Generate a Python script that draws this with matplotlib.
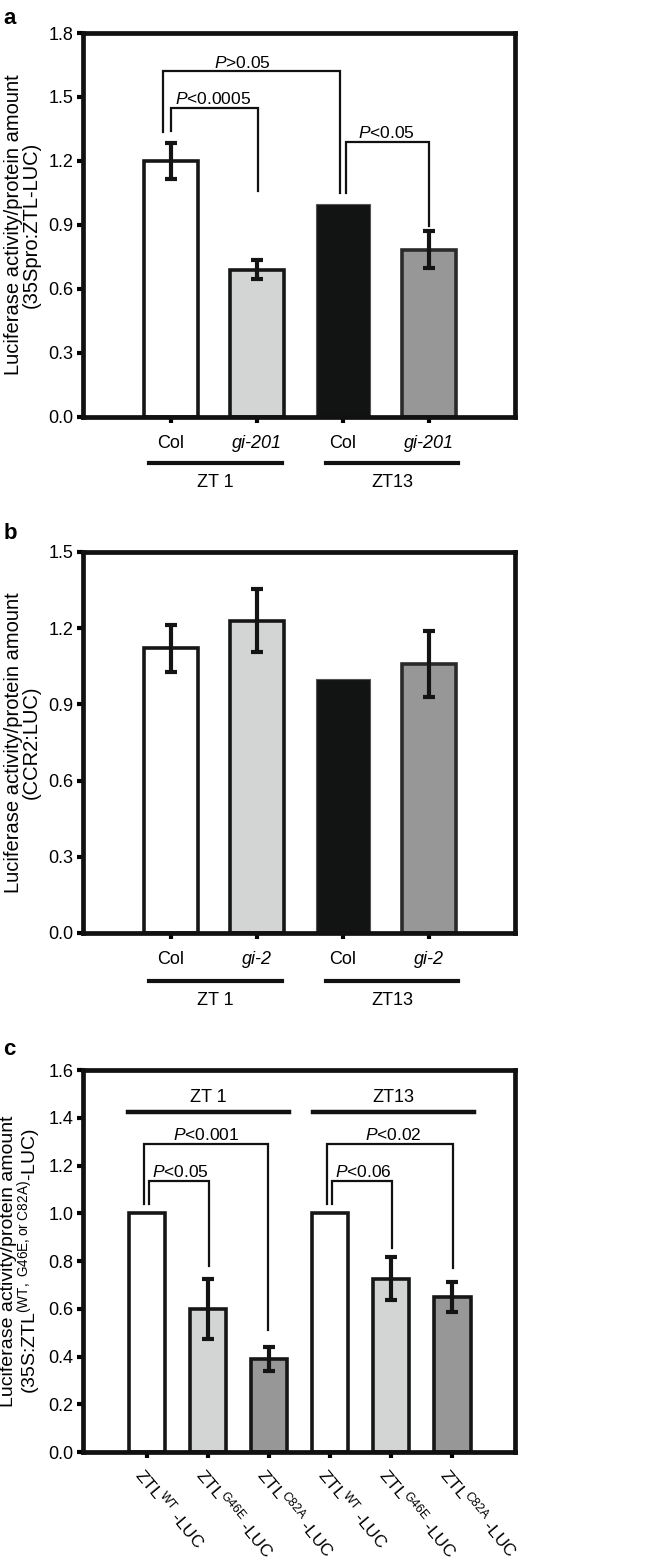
import matplotlib
matplotlib.use("Agg")
import matplotlib.pyplot as plt
import matplotlib.transforms as mtransforms

plt.rcParams['font.family'] = ['Liberation Sans', 'DejaVu Sans']
plt.rcParams['mathtext.fontset'] = 'custom'
plt.rcParams['mathtext.rm'] = 'Liberation Sans'
plt.rcParams['mathtext.it'] = 'Liberation Sans:italic'

# panel a: 35Spro:ZTL-LUC
a_labels = ['Col', 'gi-201', 'Col', 'gi-201']
a_vals = [1.20, 0.69, 1.00, 0.785]
a_err = [0.085, 0.045, 0.0, 0.085]

# panel b: CCR2:LUC
b_labels = ['Col', 'gi-2', 'Col', 'gi-2']
b_vals = [1.12, 1.23, 1.00, 1.06]
b_err = [0.093, 0.125, 0.0, 0.13]

# panel c: ZTL variants
c_labels = [r'ZTL$^{\mathrm{WT}}$ -LUC', r'ZTL$^{\mathrm{G46E}}$ -LUC', r'ZTL$^{\mathrm{C82A}}$ -LUC',
            r'ZTL$^{\mathrm{WT}}$ -LUC', r'ZTL$^{\mathrm{G46E}}$ -LUC', r'ZTL$^{\mathrm{C82A}}$ -LUC']
c_vals = [1.00, 0.60, 0.39, 1.00, 0.725, 0.65]
c_err = [0.0, 0.125, 0.05, 0.0, 0.09, 0.063]

groups = ['ZT 1', 'ZT13']

fill4 = ['white', '#d3d5d4', '#121413', '#979797']
fill6 = ['white', '#d3d5d4', '#979797', 'white', '#d3d5d4', '#979797']
edge4 = ['#161616', '#161616', '#555555', '#2a2a2a']
lw4 = [2.6, 2.6, 0.8, 2.6]
edge6 = ['#161616'] * 6
lw6 = [2.6] * 6

# significance brackets: (x_left, x_right, y_left_end, y_top, y_right_end, text, text_x)
a_brackets = [(-0.09, 1.97, 1.335, 1.62, 1.05, r'$P$>0.05', 0.83),
              (0.0, 1.01, 1.34, 1.45, 1.06, r'$P$<0.0005', 0.49),
              (2.03, 3.0, 1.05, 1.29, 0.895, r'$P$<0.05', 2.5)]
c_brackets = [(-0.05, 1.98, 1.04, 1.29, 0.51, r'$P$<0.001', 0.97),
              (0.03, 1.02, 1.04, 1.135, 0.78, r'$P$<0.05', 0.54),
              (2.95, 5.02, 1.04, 1.29, 0.77, r'$P$<0.02', 4.03),
              (3.03, 4.02, 1.04, 1.135, 0.855, r'$P$<0.06', 3.54)]

fig = plt.figure(figsize=(6.49, 15.64), dpi=100)
L, W = 0.128, 0.6656
ax_a = fig.add_axes([L, 0.7334, W, 0.2455])
ax_b = fig.add_axes([L, 0.4035, W, 0.2436])
ax_c = fig.add_axes([L, 0.0716, W, 0.2442])

ylab_font = dict(fontsize=14.5, linespacing=0.95)


def style_axes(ax):
    for s in ax.spines.values():
        s.set_linewidth(3.4)
        s.set_color('#111111')
    ax.tick_params(axis='y', direction='out', length=4, width=3, labelsize=13, pad=3)
    ax.tick_params(axis='x', direction='out', length=4, width=3, labelsize=13, pad=9)


def draw_bars(ax, vals, err, fills, edges, lws, width):
    x = list(range(len(vals)))
    ax.bar(x, vals, width=width, color=fills, edgecolor=edges, linewidth=lws, zorder=2)
    for xi, v, e in zip(x, vals, err):
        if e > 0:
            ax.errorbar(xi, v, yerr=e, fmt='none', ecolor='#141414', elinewidth=3,
                        capsize=4.5, capthick=3, zorder=3)


def draw_brackets(ax, brackets):
    for x1, x2, y1, yt, y2, txt, tx in brackets:
        ax.plot([x1, x1, x2, x2], [y1, yt, yt, y2], color='#111111', lw=1.6,
                solid_joinstyle='miter', zorder=4)
        ax.text(tx, yt + 0.004, txt, ha='center', va='bottom', fontsize=12.5)


def draw_groups(ax, spans, yline, ytext):
    tr = mtransforms.blended_transform_factory(ax.transData, ax.transAxes)
    for (x1, x2), g in zip(spans, groups):
        ax.plot([x1, x2], [yline, yline], color='#111111', lw=3, transform=tr, clip_on=False)
        ax.text((x1 + x2) / 2, ytext, g, ha='center', va='center', fontsize=13, transform=tr)


# --- panel a
style_axes(ax_a)
draw_bars(ax_a, a_vals, a_err, fill4, edge4, lw4, 0.62)
draw_brackets(ax_a, a_brackets)
ax_a.set_xlim(-1.02, 4.0)
ax_a.set_ylim(0, 1.8)
ax_a.set_yticks([0.0, 0.3, 0.6, 0.9, 1.2, 1.5, 1.8])
ax_a.set_yticklabels(['0.0', '0.3', '0.6', '0.9', '1.2', '1.5', '1.8'])
ax_a.set_xticks(range(4))
ax_a.set_xticklabels(a_labels)
for i, t in enumerate(ax_a.get_xticklabels()):
    if i % 2 == 1:
        t.set_style('italic')
ax_a.set_ylabel('Luciferase activity/protein amount\n(35Spro:ZTL-LUC)', **ylab_font)
draw_groups(ax_a, [(-0.256, 1.29), (1.80, 3.34)], -0.12, -0.17)

# --- panel b
style_axes(ax_b)
draw_bars(ax_b, b_vals, b_err, fill4, edge4, lw4, 0.62)
ax_b.set_xlim(-1.02, 4.0)
ax_b.set_ylim(0, 1.5)
ax_b.set_yticks([0.0, 0.3, 0.6, 0.9, 1.2, 1.5])
ax_b.set_yticklabels(['0.0', '0.3', '0.6', '0.9', '1.2', '1.5'])
ax_b.set_xticks(range(4))
ax_b.set_xticklabels(b_labels)
for i, t in enumerate(ax_b.get_xticklabels()):
    if i % 2 == 1:
        t.set_style('italic')
ax_b.set_ylabel('Luciferase activity/protein amount\n(CCR2:LUC)', **ylab_font)
draw_groups(ax_b, [(-0.256, 1.29), (1.80, 3.34)], -0.126, -0.178)

# --- panel c
style_axes(ax_c)
draw_bars(ax_c, c_vals, c_err, fill6, edge6, lw6, 0.6)
draw_brackets(ax_c, c_brackets)
ax_c.set_xlim(-1.05, 6.03)
ax_c.set_ylim(0, 1.6)
ax_c.set_yticks([0.0, 0.2, 0.4, 0.6, 0.8, 1.0, 1.2, 1.4, 1.6])
ax_c.set_yticklabels(['0.0', '0.2', '0.4', '0.6', '0.8', '1.0', '1.2', '1.4', '1.6'])
ax_c.set_xticks(range(6))
ax_c.set_xticklabels(c_labels, rotation=-50, ha='left', va='top', rotation_mode='anchor', fontsize=12.5)
ax_c.tick_params(axis='x', pad=5)
for (x1, x2), g in zip([(-0.31, 2.33), (2.72, 5.36)], groups):
    ax_c.plot([x1, x2], [1.426, 1.426], color='#111111', lw=3.2)
    ax_c.text((x1 + x2) / 2, 1.485, g, ha='center', va='center', fontsize=13)
ax_c.set_ylabel('Luciferase activity/protein amount\n'
                r'(35S:ZTL$^{\mathrm{(WT,\ G46E,or\ C82A)}}$-LUC)', fontsize=14, linespacing=0.9)

ax_a.yaxis.set_label_coords(-0.097, 0.5)
ax_b.yaxis.set_label_coords(-0.097, 0.5)
ax_c.yaxis.set_label_coords(-0.093, 0.5)

fig.text(0.005, 0.988, 'a', fontsize=16, fontweight='bold', va='center')
fig.text(0.005, 0.659, 'b', fontsize=16, fontweight='bold', va='center')
fig.text(0.005, 0.329, 'c', fontsize=16, fontweight='bold', va='center')

fig.savefig('out.png', dpi=100)
